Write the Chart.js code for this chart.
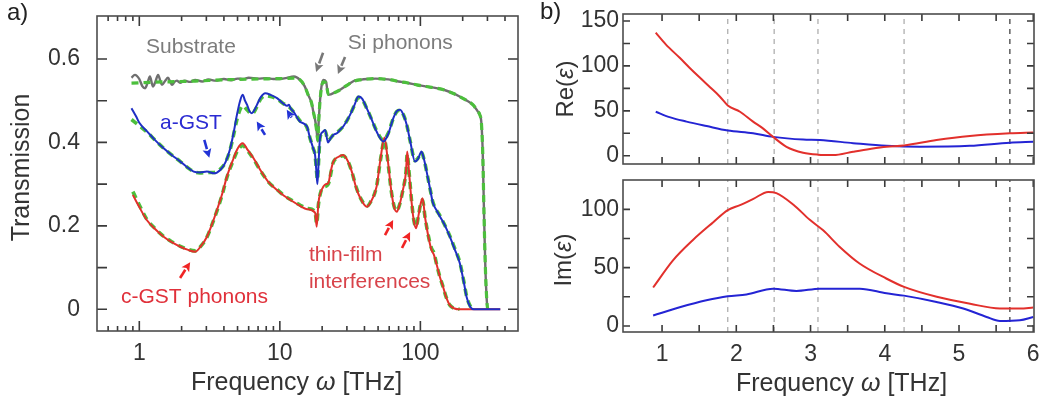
<!DOCTYPE html>
<html>
<head>
<meta charset="utf-8">
<script src="https://cdn.jsdelivr.net/npm/chart.js@4"></script>
<style>
  body { margin: 0; background: #fff; width: 1057px; height: 405px; position: relative; overflow: hidden;
         font-family: "Liberation Sans", Arial, sans-serif; }
  .box { position: absolute; }
  .tag { position: absolute; font-size: 24px; color: #222; line-height: 24px; }
</style>
</head>
<body>
<div class="box" style="left:0;top:0;width:530px;height:405px"><canvas id="tr"></canvas></div>
<div class="box" style="left:527px;top:0;width:530px;height:170px"><canvas id="re"></canvas></div>
<div class="box" style="left:527px;top:170px;width:530px;height:235px"><canvas id="im"></canvas></div>
<div class="tag" style="left:7px;top:0px">a)</div>
<div class="tag" style="left:540px;top:-1px">b)</div>
<script>
// ---- panel a: transmission vs frequency (THz, log) ----
const subFreq = [0.88, 0.93, 1.0, 1.05, 1.1, 1.15, 1.19, 1.25, 1.3, 1.36, 1.41, 1.45, 1.53, 1.6, 1.66, 1.71, 1.78, 1.85, 1.95, 2.1,
  2.3, 2.5, 2.8, 3.1, 3.5, 4, 4.5, 5, 5.5, 6, 7, 8, 9, 10, 11, 12.6, 13.9, 15, 15.9, 16.8,
  17.3, 17.9, 18.3, 18.6, 18.9, 19.3, 19.8, 20.4, 21.3, 22.1, 23, 24, 25.5, 26.8, 28.5, 31, 34, 37, 42, 48,
  54, 62, 70, 80, 94, 110, 130, 150, 170, 190, 210, 237, 255, 265, 272, 278, 284, 290, 297, 301];
const subT = [0.555, 0.562, 0.552, 0.535, 0.530, 0.545, 0.558, 0.534, 0.545, 0.562, 0.548, 0.538, 0.548, 0.555, 0.545, 0.538, 0.545, 0.548, 0.543, 0.548,
  0.545, 0.550, 0.546, 0.551, 0.548, 0.552, 0.549, 0.553, 0.552, 0.555, 0.553, 0.554, 0.552, 0.552, 0.554, 0.558, 0.550, 0.535, 0.514, 0.495,
  0.474, 0.450, 0.426, 0.402, 0.45, 0.498, 0.535, 0.550, 0.546, 0.514, 0.515, 0.518, 0.522, 0.526, 0.532, 0.540, 0.548, 0.550, 0.552, 0.553,
  0.552, 0.550, 0.546, 0.543, 0.538, 0.534, 0.530, 0.525, 0.518, 0.510, 0.502, 0.490, 0.475, 0.466, 0.445, 0.37, 0.22, 0.1, 0.02, 0];

const subFitFreq = [0.88, 1.5, 2.5, 4, 7, 10, 12.6, 13.9, 15, 15.9, 16.8, 17.3, 17.9, 18.3, 18.6, 18.9, 19.3, 19.8, 20.4, 21.3,
  22.1, 23, 24, 25.5, 26.8, 28.5, 31, 34, 37, 42, 48, 54, 62, 70, 80, 94, 110, 130, 150, 170,
  190, 210, 237, 255, 265, 272, 278, 284, 290, 297, 301];
const subFitT = [0.542, 0.545, 0.547, 0.55, 0.552, 0.553, 0.554, 0.55, 0.535, 0.514, 0.495, 0.474, 0.45, 0.426, 0.405, 0.45, 0.498, 0.532, 0.545, 0.542,
  0.516, 0.515, 0.518, 0.522, 0.526, 0.532, 0.54, 0.547, 0.55, 0.552, 0.553, 0.552, 0.55, 0.546, 0.543, 0.538, 0.534, 0.53, 0.525, 0.518,
  0.51, 0.502, 0.49, 0.475, 0.466, 0.445, 0.37, 0.22, 0.1, 0.02, 0];

const aFreq = [0.88, 0.95, 1.0, 1.14, 1.3, 1.49, 1.7, 1.96, 2.2, 2.44, 2.7, 3.03, 3.4, 3.77, 4.1, 4.44, 4.7, 4.95, 5.2, 5.44,
  5.65, 5.85, 6.1, 6.33, 6.6, 6.87, 7.3, 7.87, 8.6, 9.55, 10.5, 11.2, 11.6, 11.9, 12.5, 13.9, 15.6, 16.4, 17.3, 17.8,
  18.2, 18.5, 18.8, 19.3, 20.2, 21, 22, 23, 24, 25.5, 26.8, 28.5, 31.6, 34, 36.2, 38.5, 41.5, 45, 48.8, 54.6,
  59, 64.2, 68, 71.7, 76, 80, 85, 91.6, 96, 101.9, 106, 110.8, 117, 123, 130, 138, 150, 162, 175, 191,
  205, 213, 226, 240, 370];
const aT = [0.482, 0.462, 0.447, 0.426, 0.405, 0.386, 0.37, 0.354, 0.34, 0.33, 0.328, 0.33, 0.326, 0.334, 0.352, 0.386, 0.425, 0.466, 0.498, 0.514,
  0.5, 0.49, 0.474, 0.47, 0.478, 0.49, 0.508, 0.518, 0.514, 0.506, 0.494, 0.488, 0.49, 0.482, 0.474, 0.45, 0.438, 0.41, 0.385, 0.37,
  0.33, 0.30, 0.34, 0.41, 0.425, 0.43, 0.40, 0.41, 0.418, 0.422, 0.43, 0.44, 0.466, 0.49, 0.51, 0.505, 0.482, 0.455, 0.426, 0.402,
  0.42, 0.458, 0.475, 0.478, 0.465, 0.442, 0.40, 0.354, 0.36, 0.378, 0.36, 0.33, 0.29, 0.254, 0.238, 0.222, 0.2, 0.174, 0.145, 0.11,
  0.06, 0.03, 0.006, 0, 0];

const aFitFreq = [0.88, 1.0, 1.14, 1.3, 1.49, 1.7, 1.96, 2.2, 2.44, 2.7, 3.03, 3.4, 3.77, 4.1, 4.44, 4.7, 4.95, 5.2, 5.44, 5.85,
  6.33, 6.87, 7.3, 7.87, 8.6, 9.55, 10.5, 11.9, 13.9, 15.6, 16.4, 17.3, 17.8, 18.2, 18.5, 18.8, 19.3, 20.2, 21, 22,
  24, 26.8, 28.5, 31.6, 34, 36.2, 38.5, 41.5, 45, 48.8, 54.6, 59, 64.2, 68, 71.7, 76, 80, 85, 91.6, 96,
  101.9, 106, 110.8, 117, 123, 138, 150, 162, 175, 191, 205, 213, 226, 240];
const aFitT = [0.455, 0.44, 0.424, 0.405, 0.386, 0.37, 0.354, 0.34, 0.33, 0.327, 0.328, 0.328, 0.336, 0.352, 0.384, 0.42, 0.455, 0.478, 0.488, 0.478,
  0.468, 0.486, 0.504, 0.512, 0.51, 0.504, 0.494, 0.482, 0.452, 0.436, 0.41, 0.385, 0.37, 0.335, 0.31, 0.345, 0.41, 0.425, 0.428, 0.405,
  0.418, 0.43, 0.44, 0.466, 0.49, 0.508, 0.503, 0.482, 0.455, 0.428, 0.405, 0.422, 0.458, 0.474, 0.477, 0.465, 0.442, 0.4, 0.356, 0.362,
  0.376, 0.36, 0.33, 0.29, 0.256, 0.224, 0.2, 0.176, 0.147, 0.112, 0.062, 0.032, 0.008, 0];

const cFreq = [0.9, 0.94, 1.0, 1.13, 1.3, 1.49, 1.7, 1.96, 2.2, 2.5, 2.75, 3.03, 3.3, 3.57, 3.9, 4.2, 4.6, 5.0, 5.44, 5.9,
  6.5, 7.26, 8.3, 9.55, 10.7, 11.9, 13.9, 15.6, 17.8, 18.3, 18.8, 19.5, 20.4, 21.2, 22.1, 23, 24, 26, 28.2, 30.5,
  32.5, 35, 38, 41.5, 44, 48.8, 52, 55.5, 58.5, 62, 65, 67.9, 71, 75, 79, 80.6, 83, 87, 90, 93.2,
  97, 100, 103.6, 108, 114, 120, 125, 130, 137, 145, 153, 162, 175, 190, 370];
const cT = [0.274, 0.262, 0.245, 0.214, 0.192, 0.174, 0.161, 0.15, 0.143, 0.138, 0.152, 0.174, 0.205, 0.238, 0.278, 0.318, 0.355, 0.385, 0.398, 0.382,
  0.362, 0.334, 0.305, 0.286, 0.272, 0.262, 0.248, 0.24, 0.232, 0.198, 0.254, 0.28, 0.294, 0.3, 0.302, 0.33, 0.354, 0.365, 0.37, 0.355,
  0.33, 0.29, 0.262, 0.246, 0.255, 0.294, 0.36, 0.412, 0.36, 0.285, 0.245, 0.234, 0.25, 0.285, 0.33, 0.378, 0.33, 0.25, 0.21, 0.194,
  0.225, 0.25, 0.266, 0.22, 0.174, 0.142, 0.13, 0.11, 0.08, 0.054, 0.028, 0.01, 0.002, 0, 0];

const cFitFreq = [0.9, 1.0, 1.13, 1.3, 1.49, 1.7, 1.96, 2.2, 2.5, 2.75, 3.03, 3.3, 3.57, 3.9, 4.2, 4.6, 5.0, 5.44, 5.9, 6.5,
  7.26, 8.3, 9.55, 10.7, 11.9, 13.9, 15.6, 17.8, 18.3, 18.8, 19.5, 20.4, 22.1, 24, 26, 28.2, 30.5, 32.5, 35, 38,
  41.5, 44, 48.8, 52, 55.5, 58.5, 62, 65, 67.9, 71, 75, 79, 80.6, 83, 87, 90, 93.2, 97, 100, 103.6,
  108, 114, 120, 125, 130, 137, 145, 153, 162, 175, 190];
const cFitT = [0.282, 0.25, 0.216, 0.193, 0.175, 0.162, 0.151, 0.144, 0.14, 0.152, 0.173, 0.204, 0.236, 0.276, 0.316, 0.352, 0.38, 0.392, 0.38, 0.36,
  0.333, 0.305, 0.287, 0.273, 0.263, 0.25, 0.242, 0.234, 0.205, 0.25, 0.28, 0.292, 0.3, 0.352, 0.364, 0.368, 0.355, 0.33, 0.292, 0.263,
  0.247, 0.256, 0.295, 0.358, 0.405, 0.358, 0.285, 0.247, 0.236, 0.25, 0.285, 0.33, 0.372, 0.33, 0.252, 0.212, 0.198, 0.225, 0.25, 0.262,
  0.22, 0.176, 0.146, 0.135, 0.11, 0.08, 0.054, 0.028, 0.01, 0.002, 0];

const logTicks = [0.6, 0.7, 0.8, 0.9, 1, 2, 3, 4, 5, 6, 7, 8, 9, 10, 20, 30, 40, 50, 60, 70, 80, 90, 100, 200, 300, 400];
const logMajor = [1, 10, 100];
const transTicks = [0, 0.1, 0.2, 0.3, 0.4, 0.5, 0.6];
const transLabels = ['0', '', '0.2', '', '0.4', '', '0.6'];

// ---- panel b: dielectric function ----
const reRedFreq = [0.915, 1.05, 1.238, 1.37, 1.508, 1.65, 1.777, 1.885, 2.05, 2.226, 2.35, 2.496, 2.676, 2.9, 3.1, 3.305, 3.574, 3.8, 4.023, 4.257, 4.697, 5.146, 5.685, 6.0];
const reRed = [137, 124, 109, 98, 87, 76, 66, 56, 49, 38, 31, 21, 10, 3.4, 1.2, 0.7, 4.5, 7.5, 10, 11.5, 17.5, 22, 25, 26];
const reBlueFreq = [0.915, 1.1, 1.33, 1.6, 1.885, 2.226, 2.496, 2.9, 3.125, 3.574, 4.023, 4.47, 5.146, 5.685, 6.0];
const reBlue = [49, 43, 38, 33, 28, 25, 21, 18, 17.5, 14, 11, 10, 11, 14.5, 15.5];
const imRedFreq = [0.88, 1.15, 1.42, 1.69, 1.885, 2.05, 2.23, 2.43, 2.54, 2.77, 2.99, 3.17, 3.39, 3.66, 4.02, 4.26, 4.7, 5.15, 5.55, 5.82, 6.0];
const imRed = [33, 56.5, 74, 89, 99.4, 103.7, 109, 115, 114, 104, 91, 82, 68, 53.6, 40.7, 33.5, 25, 19, 15, 15, 15.8];
const imBlueFreq = [0.88, 1.238, 1.597, 1.885, 2.137, 2.496, 2.81, 3.125, 3.664, 4.023, 4.257, 4.697, 5.057, 5.371, 5.551, 5.82, 6.0];
const imBlue = [9, 16, 22, 25.5, 27, 32, 30, 32, 32, 28, 26, 20.6, 15, 7.7, 4.3, 4.9, 7.7];
const markFreq = [1.885, 2.51, 3.1, 4.26, 5.685];

const freqTicks = [1, 1.5, 2, 2.5, 3, 3.5, 4, 4.5, 5, 5.5, 6];
const freqLabels = ['1', '', '2', '', '3', '', '4', '', '5', '', '6'];
const reTicks = [0, 25, 50, 75, 100, 125, 150];
const reLabels = ['0', '', '50', '', '100', '', '150'];
const imTicks = [0, 25, 50, 75, 100];
const imLabels = ['0', '', '50', '', '100'];

// annotations of panel a (data coordinates)
const notesA = [
  { t: 'Substrate', x: 2.33, y: 0.629, c: '#7c7c7c', a: 'center' },
  { t: 'Si phonons', x: 72, y: 0.638, c: '#7c7c7c', a: 'center' },
  { t: 'a-GST', x: 2.33, y: 0.447, c: '#2a2ad2', a: 'center' },
  { t: 'c-GST phonons', x: 2.47, y: 0.03, c: '#e0303a', a: 'center' },
  { t: 'thin-film', x: 16.1, y: 0.13, c: '#d8434a', a: 'left' },
  { t: 'interferences', x: 16.1, y: 0.066, c: '#d8434a', a: 'left' }
];
const arrowsA = [
  { x1: 20.3, y1: 0.615, x2: 18.1, y2: 0.569, c: '#787878' },
  { x1: 29.1, y1: 0.605, x2: 25.9, y2: 0.564, c: '#787878' },
  { x1: 2.9, y1: 0.406, x2: 3.15, y2: 0.363, c: '#2233d6' },
  { x1: 7.85, y1: 0.418, x2: 6.85, y2: 0.45, c: '#2233d6' },
  { x1: 12.0, y1: 0.462, x2: 11.2, y2: 0.478, c: '#2233d6' },
  { x1: 1.95, y1: 0.075, x2: 2.3, y2: 0.113, c: '#f02424' },
  { x1: 56, y1: 0.178, x2: 64, y2: 0.214, c: '#f02424' },
  { x1: 74, y1: 0.147, x2: 84.5, y2: 0.185, c: '#f02424' }
];

const FONT = '"Liberation Sans", Arial, sans-serif';
Chart.defaults.font.family = FONT;
Chart.defaults.font.size = 23;
Chart.defaults.color = '#333';
Chart.defaults.animation = false;

const green = '#4cbf3c';
const blue = '#1f2fc4';
const red = '#e2302c';
const freqTitle = [['Frequency ', false], ['ω', true], [' [THz]', false]];

function pts(xs, ys) {
  return xs.map((x, i) => ({ x: x, y: ys[i] }));
}
function curve(xs, ys, color, width, dash) {
  return {
    data: pts(xs, ys), borderColor: color, borderWidth: width, borderDash: dash || [],
    pointRadius: 0, fill: false, cubicInterpolationMode: 'monotone'
  };
}

// box with inward ticks on all four sides
function frame(longLen, shortLen, majors) {
  return {
    id: 'frame',
    afterDraw(chart) {
      const { ctx, chartArea: a } = chart;
      const x = chart.scales.x, y = chart.scales.y;
      ctx.save();
      ctx.strokeStyle = '#3a3a3a';
      ctx.lineWidth = 1.6;
      x.ticks.forEach(t => {
        const px = x.getPixelForValue(t.value);
        const len = (!majors || majors.includes(t.value)) ? longLen : shortLen;
        ctx.beginPath();
        ctx.moveTo(px, a.bottom); ctx.lineTo(px, a.bottom - len);
        ctx.moveTo(px, a.top); ctx.lineTo(px, a.top + len);
        ctx.stroke();
      });
      y.ticks.forEach(t => {
        const py = y.getPixelForValue(t.value);
        ctx.beginPath();
        ctx.moveTo(a.left, py); ctx.lineTo(a.left + longLen, py);
        ctx.moveTo(a.right, py); ctx.lineTo(a.right - longLen, py);
        ctx.stroke();
      });
      ctx.strokeStyle = '#4d4d4d';
      ctx.lineWidth = 1.6;
      ctx.strokeRect(a.left, a.top, a.right - a.left, a.bottom - a.top);
      ctx.restore();
    }
  };
}

// axis titles with an italic symbol; offsets are relative to the plot area
function titles(cfg) {
  function put(ctx, parts, size) {
    const fonts = parts.map(p => (p[1] ? 'italic ' : '') + size + 'px ' + FONT);
    const widths = parts.map((p, i) => { ctx.font = fonts[i]; return ctx.measureText(p[0]).width; });
    let cx = -widths.reduce((s, w) => s + w, 0) / 2;
    parts.forEach((p, i) => { ctx.font = fonts[i]; ctx.fillText(p[0], cx, 0); cx += widths[i]; });
  }
  return {
    id: 'titles',
    afterDraw(chart) {
      const { ctx, chartArea: a } = chart;
      ctx.save();
      ctx.fillStyle = '#333';
      ctx.textAlign = 'left';
      ctx.textBaseline = 'middle';
      if (cfg.x) {
        ctx.save();
        ctx.translate((a.left + a.right) / 2 + cfg.x.dx, cfg.x.y);
        put(ctx, cfg.x.parts, cfg.x.size);
        ctx.restore();
      }
      if (cfg.y) {
        ctx.save();
        ctx.translate(cfg.y.x, (a.top + a.bottom) / 2 + cfg.y.dy);
        ctx.rotate(-Math.PI / 2);
        put(ctx, cfg.y.parts, cfg.y.size);
        ctx.restore();
      }
      ctx.restore();
    }
  };
}

function arrow(ctx, x1, y1, x2, y2, c) {
  const ang = Math.atan2(y2 - y1, x2 - x1), L = 9, W = 4.5;
  const bx = x2 - L * Math.cos(ang), by = y2 - L * Math.sin(ang);
  ctx.strokeStyle = c; ctx.fillStyle = c; ctx.lineWidth = 2.6;
  ctx.beginPath(); ctx.moveTo(x1, y1); ctx.lineTo(bx, by); ctx.stroke();
  ctx.beginPath(); ctx.moveTo(x2, y2);
  ctx.lineTo(bx + W * Math.sin(ang), by - W * Math.cos(ang));
  ctx.lineTo(bx + 2 * Math.cos(ang), by + 2 * Math.sin(ang));
  ctx.lineTo(bx - W * Math.sin(ang), by + W * Math.cos(ang));
  ctx.closePath(); ctx.fill();
}

const notes = {
  id: 'notes',
  afterDatasetsDraw(chart) {
    const { ctx, scales: { x, y } } = chart;
    ctx.save();
    ctx.font = '21px ' + FONT;
    ctx.textBaseline = 'middle';
    notesA.forEach(n => {
      ctx.fillStyle = n.c; ctx.textAlign = n.a;
      ctx.fillText(n.t, x.getPixelForValue(n.x), y.getPixelForValue(n.y));
    });
    arrowsA.forEach(r => arrow(ctx, x.getPixelForValue(r.x1), y.getPixelForValue(r.y1),
      x.getPixelForValue(r.x2), y.getPixelForValue(r.y2), r.c));
    ctx.restore();
  }
};

const quiet = { legend: { display: false }, tooltip: { enabled: false } };
const setTicks = list => s => { s.ticks = list.map(v => ({ value: v })); };
const fixSize = (w, h) => s => {
  if (w !== null) s.width = w;
  if (h !== null) s.height = h;
  s.paddingTop = 0; s.paddingBottom = 0; s.paddingLeft = 0; s.paddingRight = 0;
};

new Chart(document.getElementById('tr'), {
  type: 'line',
  data: {
    datasets: [
      curve(aFreq, aT, blue, 2),
      curve(cFreq, cT, red, 2),
      curve(aFitFreq, aFitT, green, 3.6, [7, 5]),
      curve(cFitFreq, cFitT, green, 3.6, [7, 5]),
      curve(subFitFreq, subFitT, green, 3.2, [7, 5]),
      curve(subFreq, subT, '#6f6f6f', 2.4)
    ]
  },
  options: {
    responsive: true, maintainAspectRatio: false,
    layout: { padding: { left: 0, right: 12, top: 16, bottom: 0 } },
    plugins: quiet,
    scales: {
      x: {
        type: 'logarithmic', min: 0.5, max: 495, bounds: 'data',
        afterBuildTicks: setTicks(logTicks),
        afterFit: fixSize(null, 74),
        grid: { display: false, drawTicks: false }, border: { display: false },
        ticks: { autoSkip: false, maxRotation: 0, padding: 9,
          callback: v => logMajor.includes(v) ? String(v) : '' }
      },
      y: {
        min: -0.052, max: 0.703, bounds: 'data',
        afterBuildTicks: setTicks(transTicks),
        afterFit: fixSize(97, null),
        grid: { display: false, drawTicks: false }, border: { display: false },
        ticks: { autoSkip: false, padding: 17, callback: (v, i) => transLabels[i] }
      }
    }
  },
  plugins: [frame(10, 5, logMajor), notes, titles({
    x: { parts: freqTitle, size: 25, dx: -11, y: 383 },
    y: { parts: [['Transmission', false]], size: 25, x: 22, dy: -6 }
  })]
});

function markLines(yMin, yMax) {
  return markFreq.map((f, i) => ({
    data: [{ x: f, y: yMin }, { x: f, y: yMax }],
    borderColor: i === markFreq.length - 1 ? '#333' : '#a8a8a8',
    borderWidth: 1.2, borderDash: [5, 5], pointRadius: 0, fill: false
  }));
}

function epsChart(id, symbol, lo, hi, yTicks, yLabels, red1, red2, blue1, blue2, bottom) {
  const ttl = { y: { parts: [[symbol + '(', false], ['ε', true], [')', false]], size: 24,
    x: bottom ? 37 : 39, dy: bottom ? 4 : 0 } };
  if (bottom) ttl.x = { parts: freqTitle, size: 25, dx: 13, y: 214 };
  new Chart(document.getElementById(id), {
    type: 'line',
    data: {
      datasets: [
        curve(red1, red2, red, 2),
        curve(blue1, blue2, '#2424d4', 2)
      ].concat(markLines(lo, hi))
    },
    options: {
      responsive: true, maintainAspectRatio: false,
      layout: { padding: { left: 0, right: 23, top: bottom ? 10 : 14, bottom: 0 } },
      plugins: quiet,
      scales: {
        x: {
          type: 'linear', min: 0.474, max: 6.01, bounds: 'data',
          afterBuildTicks: setTicks(freqTicks),
          afterFit: fixSize(null, bottom ? 73 : 6),
          grid: { display: false, drawTicks: false }, border: { display: false },
          ticks: { display: bottom, autoSkip: false, maxRotation: 0, padding: 9,
            callback: (v, i) => freqLabels[i] }
        },
        y: {
          min: lo, max: hi, bounds: 'data',
          afterBuildTicks: setTicks(yTicks),
          afterFit: fixSize(96, null),
          grid: { display: false, drawTicks: false }, border: { display: false },
          ticks: { autoSkip: false, padding: 4, callback: (v, i) => yLabels[i] }
        }
      }
    },
    plugins: [frame(7, 7, null), titles(ttl)]
  });
}

epsChart('re', 'Re', -9.2, 157.8, reTicks, reLabels, reRedFreq, reRed, reBlueFreq, reBlue, false);
epsChart('im', 'Im', -5.2, 125.2, imTicks, imLabels, imRedFreq, imRed, imBlueFreq, imBlue, true);
</script>
</body>
</html>
